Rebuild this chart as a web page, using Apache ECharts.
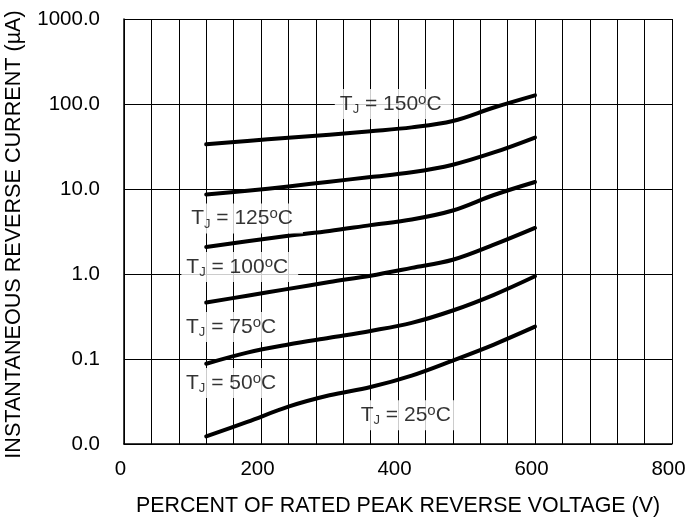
<!DOCTYPE html>
<html>
<head>
<meta charset="utf-8">
<script src="https://cdn.jsdelivr.net/npm/echarts@6/dist/echarts.min.js"></script>
<style>
html,body{margin:0;padding:0;background:#fff;}
#chart{width:687px;height:519px;}
</style>
</head>
<body>
<div id="chart"></div>
<script>
// Data
const voltage = [120, 180, 240, 300, 360, 420, 480, 540, 600];
const tj150 = [33.6, 36.8, 40.0, 43.6, 47.9, 53.1, 63.1, 91.0, 126.5];
const tj125 = [8.6, 9.55, 10.7, 12.2, 13.8, 15.7, 19.3, 26.9, 40.3];
const tj100 = [2.08, 2.43, 2.82, 3.21, 3.76, 4.37, 5.58, 8.5, 12.1];
const tj75 = [0.461, 0.556, 0.668, 0.805, 0.955, 1.18, 1.47, 2.21, 3.48];
const tj50 = [0.088, 0.119, 0.148, 0.178, 0.214, 0.266, 0.372, 0.569, 0.94];
const tj25 = [0.0123, 0.0182, 0.0275, 0.0374, 0.0468, 0.0638, 0.096, 0.148, 0.24];

const curveTemps = ['150', '125', '100', '75', '50', '25'];
const curves = [tj150, tj125, tj100, tj75, tj50, tj25];

// Curve label anchors (voltage, current) and their temperature text
const labelTemps = ['150', '125', '100', '75', '50', '25'];
const labelX = [393, 176, 169, 160, 160, 415];
const labelY = [100, 4.49, 1.21, 0.238, 0.0523, 0.0218];

const xTicks = [0, 200, 400, 600, 800];
const yTicks = ['0.0', '0.1', '1.0', '10.0', '100.0', '1000.0'];

const FONT = '"Liberation Sans", Arial, Helvetica, sans-serif';

const chart = echarts.init(document.getElementById('chart'), null, {renderer: 'canvas'});

const lineSeries = curves.map((vals, i) => ({
  type: 'line',
  name: 'TJ = ' + curveTemps[i] + '°C',
  data: voltage.map((v, k) => [v, vals[k]]),
  showSymbol: false,
  smooth: 0.35,
  lineStyle: {color: '#000', width: 4, cap: 'round', join: 'round'},
  silent: true,
  z: 3
}));

const labelSeries = {
  type: 'scatter',
  data: labelX.map((x, i) => ({value: [x, labelY[i]], temp: labelTemps[i]})),
  symbolSize: 0,
  silent: true,
  z: 5,
  label: {
    show: true,
    position: 'inside',
    formatter: p => '{t|T}{s|J}{t| = ' + p.data.temp + '}{o|o}{t|C}',
    backgroundColor: '#fff',
    padding: [3, 10, 3, 5],
    rich: {
      t: {fontSize: 21, fontFamily: FONT, color: '#000', lineHeight: 24, verticalAlign: 'middle'},
      s: {fontSize: 13, fontFamily: FONT, color: '#000', lineHeight: 12, verticalAlign: 'bottom'},
      o: {fontSize: 15, fontFamily: FONT, color: '#000', lineHeight: 14, verticalAlign: 'top'}
    }
  }
};

chart.setOption({
  animation: false,
  backgroundColor: '#fff',
  grid: {left: 124, right: 15, top: 19, bottom: 75, containLabel: false, outerBoundsMode: 'none'},
  xAxis: {
    type: 'value',
    min: 0,
    max: 800,
    interval: 40,
    name: 'PERCENT OF RATED PEAK REVERSE VOLTAGE (V)',
    nameLocation: 'middle',
    nameGap: 52,
    nameTextStyle: {fontSize: 21.4, fontFamily: FONT, color: '#000'},
    axisLine: {show: true, lineStyle: {color: '#000', width: 1.5}},
    axisTick: {show: false},
    axisLabel: {
      fontSize: 20.5, fontFamily: FONT, color: '#000', margin: 15,
      padding: [0, 7, 0, 0],
      formatter: v => xTicks.indexOf(v) >= 0 ? String(v) : ''
    },
    splitLine: {show: true, lineStyle: {color: '#000', width: 1}}
  },
  yAxis: {
    type: 'log',
    logBase: 10,
    min: 0.01,
    max: 1000,
    name: 'INSTANTANEOUS REVERSE CURRENT (µA)',
    nameLocation: 'middle',
    nameGap: 99,
    nameRotate: 90,
    nameTextStyle: {fontSize: 21.6, fontFamily: FONT, color: '#000', padding: [0, 6, 0, 0]},
    axisLine: {show: true, lineStyle: {color: '#000', width: 1.5}},
    axisTick: {show: false},
    axisLabel: {
      fontSize: 20.5, fontFamily: FONT, color: '#000', margin: 24,
      formatter: v => {
        const idx = Math.round(Math.log10(v)) + 2;
        return yTicks[idx] !== undefined ? yTicks[idx] : '';
      }
    },
    splitLine: {show: true, lineStyle: {color: '#000', width: 1}}
  },
  series: lineSeries.concat([labelSeries])
});
</script>
</body>
</html>
